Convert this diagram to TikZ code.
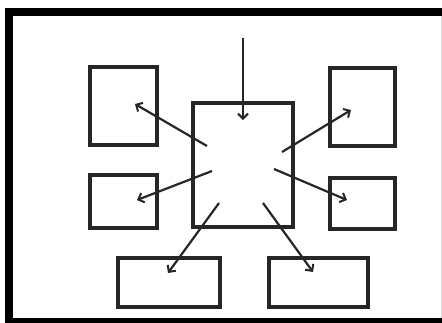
\documentclass[tikz,border=0pt]{standalone}
\usetikzlibrary{arrows.meta}
\begin{document}
\begin{tikzpicture}[x=1pt,y=-1pt,
  box/.style={draw=black!85,line width=3.5pt,inner sep=0pt,fill=white},
  arr/.style={draw=black!85,line width=2.2pt,-{Straight Barb[length=5pt,width=10pt,line width=2pt]}},
  frame/.style={draw=black,line width=8pt}]
\useasboundingbox (0,0) rectangle (442,322);
\draw[frame] (9,12) rectangle (455,322);
\draw[black!15,line width=0.8pt] (441,16) -- (441,318);
% boxes
\node[box,minimum width=67pt,minimum height=78pt] (tl) at (123.5,106) {};
\node[box,minimum width=65pt,minimum height=78pt] (tr) at (362.5,107) {};
\node[box,minimum width=67pt,minimum height=53pt] (ml) at (123.5,201.5) {};
\node[box,minimum width=65pt,minimum height=51pt] (mr) at (362.5,203.5) {};
\node[box,minimum width=100pt,minimum height=124pt] (c) at (243,165) {};
\node[box,minimum width=102pt,minimum height=49pt] (bl) at (169,282.5) {};
\node[box,minimum width=99pt,minimum height=49pt] (br) at (318.5,282.5) {};
% arrow ends
\coordinate (in0) at (243,38);
\coordinate (in1) at (243,120);
\coordinate (a1) at (207,146);  \coordinate (e1) at (135,104);
\coordinate (a2) at (282,152);  \coordinate (e2) at (351,110);
\coordinate (a3) at (212,171);  \coordinate (e3) at (137,200);
\coordinate (a4) at (274,169);  \coordinate (e4) at (347,200);
\coordinate (a5) at (219,203);  \coordinate (e5) at (168,273);
\coordinate (a6) at (263,203);  \coordinate (e6) at (313,272);
\draw[arr] (in0) -- (in1);
\draw[arr] (a1) -- (e1);
\draw[arr] (a2) -- (e2);
\draw[arr] (a3) -- (e3);
\draw[arr] (a4) -- (e4);
\draw[arr] (a5) -- (e5);
\draw[arr] (a6) -- (e6);
\end{tikzpicture}
\end{document}
